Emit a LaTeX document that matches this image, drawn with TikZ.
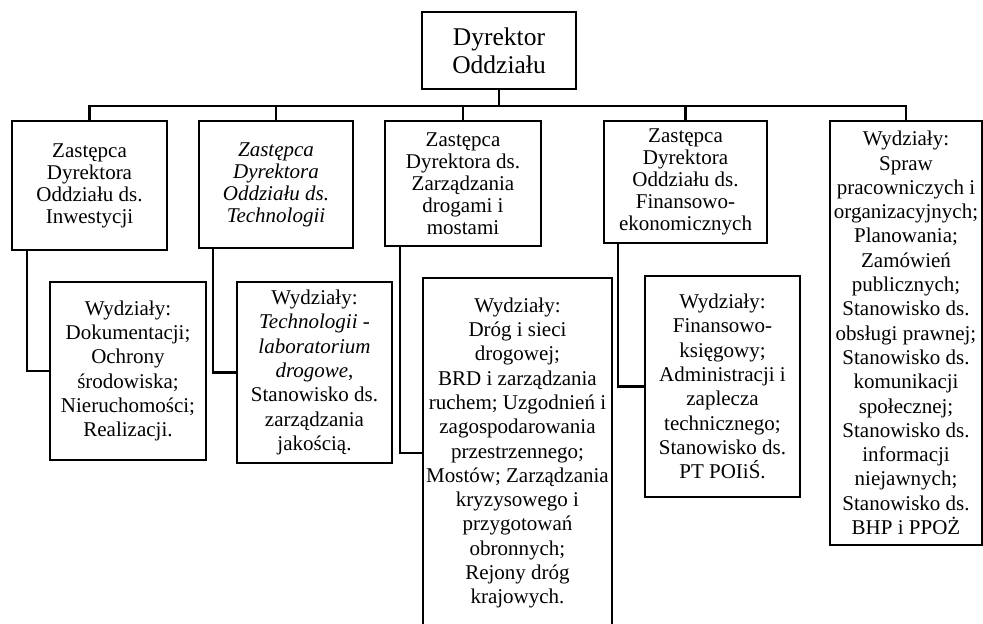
\documentclass[tikz,border=0pt]{standalone}
\usepackage{fontspec}
\setmainfont{Liberation Serif}
\usetikzlibrary{positioning}

\begin{document}
\begin{tikzpicture}[
            x=1pt,y=-1pt,
            line width=2.1pt,
            box/.style={
              draw,
              align=center,
              inner sep=1pt,
              font=\fontsize{21}{22}\selectfont
            },
            unit/.style={
              box,
              font=\fontsize{21}{24.3}\selectfont
            }
            ]
            \useasboundingbox (0,0) rectangle (983,624);

            \node[box,minimum width=154pt,minimum height=77pt,
                  font=\fontsize{25.5}{28}\selectfont] at (499,50.5)
              (dyr) {Dyrektor\\Oddziału};
            \coordinate (bus) at (499,106);

            \node[box,minimum width=155pt,minimum height=129pt] at (89.5,185.5)
              (z1) {Zastępca\\Dyrektora\\Oddziału ds.\\Inwestycji};
            \node[box,minimum width=154pt,minimum height=127pt] at (276,184.5)
              (z2) {\itshape Zastępca\\\itshape Dyrektora\\\itshape Oddziału ds.\\\itshape Technologii};
            \node[box,minimum width=156pt,minimum height=125pt] at (463,183.5)
              (z3) {Zastępca\\Dyrektora ds.\\Zarządzania\\drogami i\\mostami};
            \node[box,minimum width=163pt,minimum height=122pt] at (685.5,182)
              (z4) {Zastępca\\Dyrektora\\Oddziału ds.\\Finansowo-\\ekonomicznych};
            \node[unit,minimum width=152pt,minimum height=424pt] at (906,333)
              (z5) {Wydziały:\\Spraw\\pracowniczych i\\organizacyjnych;\\Planowania;\\Zamówień\\publicznych;\\Stanowisko ds.\\obsługi prawnej;\\Stanowisko ds.\\komunikacji\\społecznej;\\Stanowisko ds.\\informacji\\niejawnych;\\Stanowisko ds.\\BHP i PPOŻ};

            \node[unit,minimum width=156pt,minimum height=178pt] at (128,371)
              (w1) {Wydziały:\\Dokumentacji;\\Ochrony\\środowiska;\\Nieruchomości;\\Realizacji.};
            \node[unit,minimum width=155pt,minimum height=181pt] at (314.5,372.5)
              (w2) {Wydziały:\\\textit{Technologii -}\\\textit{laboratorium}\\\textit{drogowe},\\Stanowisko ds.\\zarządzania\\jakością.};
            \node[unit,minimum width=189pt,minimum height=350pt] at (517.5,453)
              (w3) {Wydziały:\\Dróg i sieci\\drogowej;\\BRD i zarządzania\\ruchem; Uzgodnień i\\zagospodarowania\\przestrzennego;\\Mostów; Zarządzania\\kryzysowego i\\przygotowań\\obronnych;\\Rejony dróg\\krajowych.};
            \node[unit,minimum width=155pt,minimum height=221pt] at (722.5,386.5)
              (w4) {Wydziały:\\Finansowo-\\księgowy;\\Administracji i\\zaplecza\\technicznego;\\Stanowisko ds.\\PT POIiŚ.};

            \draw (dyr.south) -- (bus);
            \foreach \z in {z1,z2,z3,z4,z5}
              \draw (bus) -| (\z.north);

            \draw ([xshift=16pt]z1.south west) |- (w1.west);
            \draw ([xshift=15pt]z2.south west) |- (w2.west);
            \draw ([xshift=16pt]z3.south west) |- (w3.west);
            \draw ([xshift=15pt]z4.south west) |- (w4.west);
            \end{tikzpicture}
\end{document}
